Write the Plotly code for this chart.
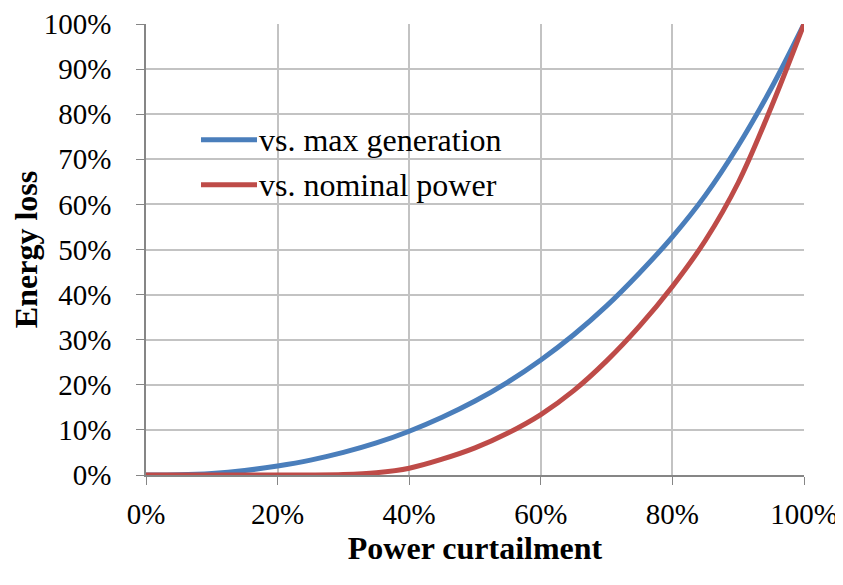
import plotly.graph_objects as go

# Data (fractions)
curtailment = [0, 0.05, 0.10, 0.15, 0.20, 0.25, 0.30, 0.35, 0.40, 0.45, 0.50,
               0.55, 0.60, 0.65, 0.70, 0.75, 0.80, 0.85, 0.90, 0.95, 1.00]
loss_vs_max_generation = [0, 0.0005, 0.0035, 0.010, 0.020, 0.033, 0.050, 0.071, 0.097, 0.128, 0.164,
                          0.206, 0.255, 0.311, 0.375, 0.448, 0.528, 0.620, 0.730, 0.857, 1.000]
loss_vs_nominal_power = [0, 0, 0, 0, 0, 0, 0.001, 0.005, 0.015, 0.035, 0.060,
                         0.093, 0.134, 0.187, 0.253, 0.330, 0.418, 0.520, 0.648, 0.815, 1.000]
series_names = ["vs. max generation", "vs. nominal power"]
x_ticks = [0, 0.2, 0.4, 0.6, 0.8, 1.0]
y_ticks = [i / 10 for i in range(11)]

BLUE = "#4a7ebb"
RED = "#be4b48"
FONT = "Liberation Serif, Times New Roman, serif"

fig = go.Figure()
for name, ys, col in [(series_names[0], loss_vs_max_generation, BLUE),
                      (series_names[1], loss_vs_nominal_power, RED)]:
    fig.add_trace(go.Scatter(x=curtailment, y=ys, mode="lines", name=name,
                             line=dict(color=col, width=5, shape="spline", smoothing=1.0),
                             showlegend=False, cliponaxis=False))

# Manual legend (long line samples as in the reference)
legend_y = [0.7435, 0.6437]
for name, col, ly in zip(series_names, [BLUE, RED], legend_y):
    fig.add_shape(type="line", xref="paper", yref="paper", x0=0.0836, x1=0.1687, y0=ly, y1=ly,
                  line=dict(color=col, width=5))
    fig.add_annotation(xref="paper", yref="paper", x=0.1687, y=ly, text=name, showarrow=False,
                       xanchor="left", yanchor="middle",
                       font=dict(family=FONT, size=32, color="black"))

fig.update_layout(
    width=835, height=577,
    margin=dict(l=138, r=39, t=16, b=110),
    paper_bgcolor="white", plot_bgcolor="white",
    font=dict(family=FONT, color="black"),
    xaxis=dict(range=[0, 1], tickvals=x_ticks, tickformat=".0%",
               showgrid=True, gridcolor="#c3c3c3", gridwidth=1.5,
               showline=True, linecolor="#868686", linewidth=1.5,
               ticks="outside", ticklen=8, tickcolor="#868686",
               tickfont=dict(size=29), ticklabelstandoff=4, automargin=False,
               title=dict(text="<b>Power curtailment</b>", font=dict(size=32), standoff=8),
               zeroline=False, fixedrange=True),
    yaxis=dict(range=[0, 1], tickvals=y_ticks, tickformat=".0%",
               showgrid=True, gridcolor="#c3c3c3", gridwidth=1.5,
               showline=True, linecolor="#868686", linewidth=1.5,
               ticks="outside", ticklen=8, tickcolor="#868686",
               tickfont=dict(size=29), ticklabelstandoff=19, automargin=False,
               title=dict(text="<b>Energy loss</b>", font=dict(size=32), standoff=0),
               zeroline=False, fixedrange=True),
)

fig.write_html("out.html")
